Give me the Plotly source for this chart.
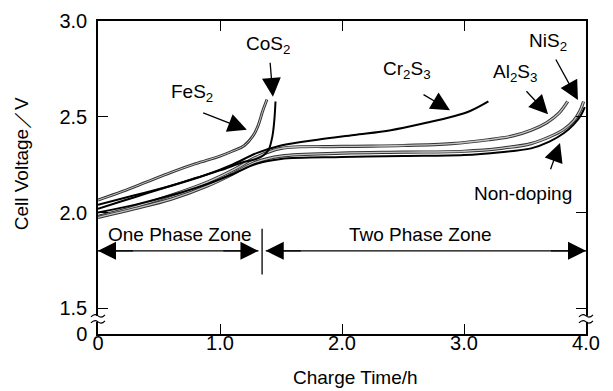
import plotly.graph_objects as go

# ---------------- data ----------------
t_fes2 = [0, 0.2, 0.4, 0.6, 0.8, 1.0, 1.1, 1.2, 1.27, 1.31, 1.35, 1.385]
v_fes2 = [2.065, 2.11, 2.16, 2.21, 2.255, 2.295, 2.32, 2.35, 2.40, 2.45, 2.53, 2.59]

t_cos2 = [0, 0.2, 0.4, 0.6, 0.8, 1.0, 1.2, 1.30, 1.36, 1.40, 1.43, 1.445, 1.455]
v_cos2 = [2.02, 2.06, 2.10, 2.14, 2.18, 2.22, 2.265, 2.28, 2.30, 2.33, 2.40, 2.48, 2.58]

t_cr2s3 = [0, 0.3, 0.6, 0.9, 1.1, 1.3, 1.5, 1.8, 2.1, 2.4, 2.7, 2.9, 3.05, 3.2]
v_cr2s3 = [2.04, 2.09, 2.14, 2.20, 2.25, 2.31, 2.35, 2.38, 2.405, 2.43, 2.47, 2.50, 2.53, 2.58]

t_al2s3 = [0, 0.3, 0.6, 0.9, 1.1, 1.3, 1.5, 2.0, 2.5, 2.9, 3.2, 3.4, 3.55, 3.68, 3.78, 3.85]
v_al2s3 = [1.98, 2.03, 2.09, 2.16, 2.22, 2.29, 2.335, 2.345, 2.35, 2.36, 2.38, 2.40, 2.43, 2.47, 2.52, 2.58]

t_nis2 = [0, 0.3, 0.6, 0.9, 1.1, 1.3, 1.5, 2.0, 2.5, 3.0, 3.3, 3.55, 3.7, 3.82, 3.9, 3.95, 3.98]
v_nis2 = [1.975, 2.02, 2.07, 2.14, 2.20, 2.265, 2.295, 2.31, 2.315, 2.32, 2.335, 2.36, 2.395, 2.435, 2.48, 2.53, 2.58]

t_nondop = [0, 0.3, 0.6, 0.9, 1.1, 1.3, 1.5, 2.0, 2.5, 3.0, 3.3, 3.55, 3.7, 3.82, 3.9, 3.96, 3.99]
v_nondop = [2.0, 2.04, 2.09, 2.15, 2.20, 2.255, 2.28, 2.29, 2.295, 2.30, 2.315, 2.335, 2.37, 2.415, 2.46, 2.51, 2.55]

x_tickvals = [0, 1, 2, 3, 4]
x_ticktext = ["0", "1.0", "2.0", "3.0", "4.0"]
y_bottom = 1.366
y_tickvals = [y_bottom, 1.5, 2.0, 2.5, 3.0]
y_ticktext = ["0", "1.5", "2.0", "2.5", "3.0"]

phase_boundary = 1.345
zone_level = 1.80

FONT = "Liberation Sans, Arial, Helvetica, sans-serif"
TXT = 19

fig = go.Figure()


def solid(t, v):
    fig.add_trace(go.Scatter(x=t, y=v, mode="lines", line=dict(color="black", width=2.0, shape="spline"),
                             showlegend=False, hoverinfo="skip"))


def hatched(t, v, w=3.2):
    fig.add_trace(go.Scatter(x=t, y=v, mode="lines", line=dict(color="#333333", width=w, shape="spline"),
                             showlegend=False, hoverinfo="skip"))
    fig.add_trace(go.Scatter(x=t, y=v, mode="lines", line=dict(color="#c4c4c4", width=w - 1.9, shape="spline"),
                             showlegend=False, hoverinfo="skip"))


hatched(t_fes2, v_fes2, 2.9)
hatched(t_al2s3, v_al2s3)
hatched(t_nis2, v_nis2)
solid(t_cos2, v_cos2)
solid(t_cr2s3, v_cr2s3)
solid(t_nondop, v_nondop)

annotations = []

labels = [
    ("FeS<sub>2</sub>", 0.77, 2.625),
    ("CoS<sub>2</sub>", 1.39, 2.875),
    ("Cr<sub>2</sub>S<sub>3</sub>", 2.53, 2.745),
    ("Al<sub>2</sub>S<sub>3</sub>", 3.42, 2.73),
    ("NiS<sub>2</sub>", 3.69, 2.89),
    ("Non-doping", 3.48, 2.10),
]
for txt, x, y in labels:
    annotations.append(dict(text=txt, x=x, y=y, xref="x", yref="y", showarrow=False,
                            xanchor="center", yanchor="middle",
                            font=dict(family=FONT, size=TXT, color="black")))

arrows = [
    (1.22, 2.432, 0.85, 2.523),
    (1.434, 2.604, 1.41, 2.79),
    (2.885, 2.534, 2.656, 2.62),
    (3.689, 2.513, 3.50, 2.641),
    (3.934, 2.588, 3.746, 2.807),
    (3.787, 2.363, 3.705, 2.218),
]
for x, y, ax, ay in arrows:
    annotations.append(dict(text="", x=x, y=y, ax=ax, ay=ay, xref="x", yref="y", axref="x", ayref="y",
                            showarrow=True, arrowhead=2, arrowsize=2.9, arrowwidth=1.3,
                            arrowcolor="black", standoff=0, startstandoff=0))

zone_heads = [
    (0.0, 0.3),
    (phase_boundary - 0.03, phase_boundary - 0.33),
    (phase_boundary + 0.03, phase_boundary + 0.33),
    (4.0, 3.7),
]
for x, ax in zone_heads:
    annotations.append(dict(text="", x=x, y=zone_level, ax=ax, ay=zone_level, xref="x", yref="y",
                            axref="x", ayref="y", showarrow=True, arrowhead=2, arrowsize=3.0,
                            arrowwidth=1.2, arrowcolor="black", standoff=0, startstandoff=0))

annotations.append(dict(text="One Phase Zone", x=0.67, y=1.885, xref="x", yref="y", showarrow=False,
                        xanchor="center", yanchor="middle", font=dict(family=FONT, size=TXT, color="black")))
annotations.append(dict(text="Two Phase Zone", x=2.64, y=1.885, xref="x", yref="y", showarrow=False,
                        xanchor="center", yanchor="middle", font=dict(family=FONT, size=TXT, color="black")))

annotations.append(dict(text="Cell Voltage／V", x=-0.156, y=0.545, xref="paper", yref="paper",
                        xanchor="center", yanchor="middle",
                        showarrow=False, textangle=-90, font=dict(family=FONT, size=TXT, color="black")))
annotations.append(dict(text="Charge Time/h", x=0.527, y=-0.14, xref="paper", yref="paper",
                        xanchor="center", yanchor="middle",
                        showarrow=False, font=dict(family=FONT, size=TXT, color="black")))

shapes = [
    dict(type="line", x0=phase_boundary, x1=phase_boundary, y0=1.677, y1=1.915,
         xref="x", yref="y", line=dict(color="black", width=1.3)),
    dict(type="line", x0=0, x1=phase_boundary - 0.03, y0=zone_level, y1=zone_level,
         xref="x", yref="y", line=dict(color="black", width=1.2)),
    dict(type="line", x0=phase_boundary + 0.03, x1=4.0, y0=zone_level, y1=zone_level,
         xref="x", yref="y", line=dict(color="black", width=1.2)),
]
for xa in [0, 1]:
    shapes.append(dict(type="rect", xref="paper", yref="y", xsizemode="pixel", xanchor=xa,
                       ysizemode="pixel", yanchor=1.445, x0=-3, x1=3, y0=-3, y1=3,
                       fillcolor="white", line=dict(width=0), layer="above"))
    for dy in (-3, 3):
        shapes.append(dict(type="path", xref="paper", yref="y", xsizemode="pixel", xanchor=xa,
                           ysizemode="pixel", yanchor=1.445,
                           path=f"M-7,{dy - 1} Q-3.5,{dy + 3} 0,{dy} T7,{dy + 1}",
                           line=dict(color="black", width=1.1), layer="above"))

# page body has an 8 px offset, so the figure is 8 px smaller and margins shifted
fig.update_layout(
    width=605, height=383,
    margin=dict(l=90, r=27, t=13, b=57, autoexpand=False),
    paper_bgcolor="white", plot_bgcolor="white",
    annotations=annotations, shapes=shapes,
    font=dict(family=FONT, size=TXT, color="black"),
)
fig.update_xaxes(range=[0, 4.0], tickvals=x_tickvals, ticktext=x_ticktext, ticks="inside", ticklen=10,
                 tickwidth=1.3, tickcolor="black", showline=True, linecolor="black", linewidth=1.5,
                 mirror="ticks", showgrid=False, zeroline=False, ticklabelstandoff=-10,
                 tickfont=dict(family=FONT, size=20, color="black"))
fig.update_yaxes(range=[y_bottom, 3.0], tickvals=y_tickvals, ticktext=y_ticktext, ticks="inside", ticklen=10,
                 tickwidth=1.3, tickcolor="black", showline=True, linecolor="black", linewidth=1.5,
                 mirror="ticks", showgrid=False, zeroline=False, ticklabelstandoff=5,
                 tickfont=dict(family=FONT, size=20, color="black"))

fig.write_html("out.html")
